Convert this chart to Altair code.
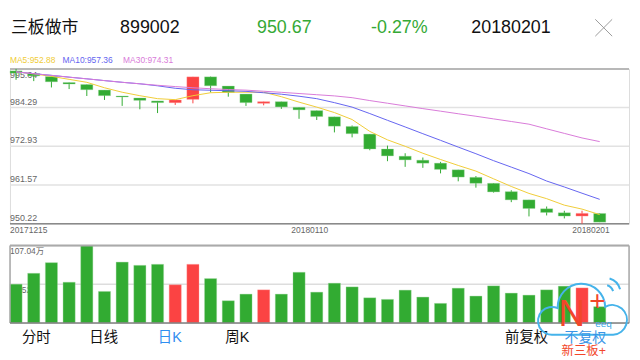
import altair as alt
import pandas as pd
import numpy as np

# ---------------- data ----------------
dates = ["20171215", "20171218", "20171219", "20171220", "20171221", "20171222",
         "20171225", "20171226", "20171227", "20171228", "20171229",
         "20180102", "20180103", "20180104", "20180105", "20180108", "20180109",
         "20180110", "20180111", "20180112", "20180115", "20180116", "20180117",
         "20180118", "20180119", "20180122", "20180123", "20180124", "20180125",
         "20180126", "20180129", "20180130", "20180131", "20180201"]
opens = [995.06, 994.27, 993.40, 991.65, 991.07, 989.44, 987.69, 987.11, 986.24, 985.74,
         986.70, 993.31, 990.60, 988.27, 985.54, 986.03, 984.37, 983.41, 981.58, 978.75,
         976.51, 972.14, 970.02, 968.85, 967.98, 966.03, 963.82, 962.07, 959.62, 957.21,
         954.59, 953.42, 952.46, 953.22]
closes = [994.39, 993.60, 991.86, 991.19, 989.53, 987.78, 987.40, 986.41, 985.74, 986.53,
          993.31, 990.69, 988.74, 985.74, 986.03, 984.49, 983.62, 981.66, 978.84, 976.63,
          972.14, 970.11, 968.94, 967.98, 966.15, 963.90, 962.07, 959.54, 957.21, 954.67,
          953.51, 952.46, 953.24, 950.67]
highs = [995.64, 994.27, 993.40, 991.65, 991.07, 989.44, 987.69, 987.11, 986.24, 986.53,
         993.31, 993.40, 990.60, 988.27, 986.03, 986.03, 984.37, 983.41, 981.58, 979.04,
         976.51, 973.13, 970.89, 969.64, 968.36, 966.03, 964.20, 962.07, 960.03, 957.21,
         955.26, 954.01, 954.01, 953.22]
lows = [992.44, 992.06, 990.20, 989.73, 987.69, 986.53, 984.78, 983.79, 982.68, 985.07,
        985.54, 988.74, 987.49, 984.78, 984.95, 983.91, 981.00, 980.65, 977.01, 975.55,
        971.77, 968.56, 966.90, 966.61, 964.98, 962.65, 960.79, 959.33, 956.54, 952.35,
        952.64, 951.76, 950.22, 950.67]
volumes = [53.5, 68.6, 83.3, 56.3, 107.04, 43.5, 84.1, 79.6, 81.0, 52.6,
           81.0, 61.3, 30.6, 39.8, 45.7, 39.8, 70.0, 42.5, 54.9, 49.8,
           34.7, 32.5, 45.3, 35.7, 27.0, 48.0, 37.1, 51.2, 41.2, 38.4,
           45.7, 50.8, 48.4, 22.4]
ma5 = [994.77, 994.18, 993.46, 992.58, 991.71, 990.11, 988.80, 987.78, 986.91, 986.62,
       987.78, 988.65, 988.80, 988.80, 988.80, 987.49, 985.89, 984.43, 982.83, 980.79,
       977.30, 974.82, 972.93, 970.89, 969.06, 967.31, 965.65, 963.38, 961.14, 959.10,
       957.56, 955.66, 954.50, 952.88]
ma10 = [994.77, 994.24, 993.75, 993.22, 992.73, 992.21, 991.71, 991.27, 990.69, 989.96,
        989.53, 989.38, 989.24, 989.06, 988.65, 988.22, 987.63, 986.91, 985.74, 984.43,
        982.54, 980.56, 978.61, 976.63, 974.68, 972.70, 970.75, 968.71, 966.82, 964.92,
        962.74, 960.99, 959.16, 957.36]
ma30 = [994.77, 994.24, 993.75, 993.22, 992.73, 992.21, 991.71, 991.27, 990.84, 990.46,
        990.11, 989.82, 989.59, 989.41, 989.09, 988.77, 988.42, 988.07, 987.72, 987.20,
        986.35, 985.57, 984.78, 983.99, 983.24, 982.48, 981.75, 980.97, 980.21, 979.42,
        978.06, 976.72, 975.38, 974.31]

price_grid = [961.57, 972.93, 984.29]
price_low_labels = [950.22, 961.57, 972.93, 984.29]
price_top = 995.64
price_bottom = 950.22
vol_max = 107.04
vol_mid = 53.52

header_texts = ["三板做市", "899002", "950.67", "-0.27%", "20180201"]
ma_labels = ["MA5:952.88", "MA10:957.36", "MA30:974.31"]
tab_texts = ["分时", "日线", "日K", "周K", "前复权", "不复权"]
date_labels = ["20171215", "20180110", "20180201"]
date_idx = [0, 17, 33]

# ---------------- styling ----------------
FONT = "Helvetica Neue, Helvetica, Arial, Liberation Sans, Noto Sans CJK SC, sans-serif"
GREEN = "#32ab32"
RED = "#fb4343"
C_MA5, C_MA10, C_MA30 = "#f0cc38", "#6464f0", "#d97ad9"
W = 624
PH, VH = 156, 78

df = pd.DataFrame({"i": np.arange(len(dates)), "date": dates, "open": opens, "close": closes,
                   "high": highs, "low": lows, "vol": volumes,
                   "ma5": ma5, "ma10": ma10, "ma30": ma30})
df["x0"] = df["i"] + 0.0
df["x1"] = df["i"] + 0.686
df["xm"] = df["i"] + 0.343
df["zero"] = 0.0
df["dir"] = np.where(df["close"] > df["open"], "up", "down")

xs = alt.Scale(domain=[0, 35], nice=False, zero=False)
ys = alt.Scale(domain=[price_bottom, price_top], nice=False, zero=False)
vs = alt.Scale(domain=[0, vol_max], nice=False, zero=False)
cs = alt.Scale(domain=["up", "down"], range=[RED, GREEN])
strk = alt.Scale(domain=["up", "down"], range=["#ff9a9a", "#9fd89f"])


def label(text, x, y, color="#111111", size=17, align="left", baseline="middle", weight="normal"):
    return alt.Chart(pd.DataFrame({"t": [text]})).mark_text(
        align=align, baseline=baseline, fontSize=size, color=color, font=FONT, fontWeight=weight
    ).encode(text="t:N", x=alt.value(x), y=alt.value(y))


base = alt.Chart(df)

# ---------------- price panel ----------------
grid = alt.Chart(pd.DataFrame({"v": price_grid})).mark_rule(color="#e2e2e2", strokeWidth=1.5).encode(
    y=alt.Y("v:Q", scale=ys, axis=None))
top_border = alt.Chart(pd.DataFrame({"v": [price_top]})).mark_rule(color="#b8b8b8", strokeWidth=2).encode(
    y=alt.Y("v:Q", scale=ys, axis=None))
bot_border = alt.Chart(pd.DataFrame({"v": [price_bottom]})).mark_rule(color="#8a8a8a", strokeWidth=1.5).encode(
    y=alt.Y("v:Q", scale=ys, axis=None))
ylab = alt.Chart(pd.DataFrame({"v": price_low_labels})).mark_text(
    align="left", baseline="bottom", dy=-1, fontSize=9, color="#666666", font=FONT
).encode(y=alt.Y("v:Q", scale=ys, axis=None), x=alt.value(0), text=alt.Text("v:Q", format=".2f"))
ylab_top = alt.Chart(pd.DataFrame({"v": [price_top]})).mark_text(
    align="left", baseline="top", dy=2, fontSize=9, color="#666666", font=FONT
).encode(y=alt.Y("v:Q", scale=ys, axis=None), x=alt.value(0), text=alt.Text("v:Q", format=".2f"))

wick = base.mark_rule(strokeWidth=1).encode(
    x=alt.X("xm:Q", scale=xs, axis=None), y=alt.Y("low:Q", scale=ys, axis=None), y2="high:Q",
    color=alt.Color("dir:N", scale=cs, legend=None))
body = base.mark_bar(strokeWidth=0.8, strokeOpacity=0.45).encode(
    x=alt.X("x0:Q", scale=xs, axis=None), x2="x1:Q",
    y=alt.Y("open:Q", scale=ys, axis=None), y2="close:Q",
    color=alt.Color("dir:N", scale=cs, legend=None),
    stroke=alt.Color("dir:N", scale=strk, legend=None))
l5 = base.mark_line(color=C_MA5, strokeWidth=1).encode(x=alt.X("xm:Q", scale=xs, axis=None), y=alt.Y("ma5:Q", scale=ys, axis=None))
l10 = base.mark_line(color=C_MA10, strokeWidth=1).encode(x=alt.X("xm:Q", scale=xs, axis=None), y=alt.Y("ma10:Q", scale=ys, axis=None))
l30 = base.mark_line(color=C_MA30, strokeWidth=1).encode(x=alt.X("xm:Q", scale=xs, axis=None), y=alt.Y("ma30:Q", scale=ys, axis=None))

dl = pd.DataFrame({"t": date_labels, "i": date_idx})
dl["x0"] = dl["i"] + 0.0
dl["xm"] = dl["i"] + 0.343
dl["x1"] = dl["i"] + 0.686
date_l = alt.Chart(dl.iloc[[0]]).mark_text(align="left", baseline="middle", fontSize=8.5, color="#666666", font=FONT).encode(
    x=alt.X("x0:Q", scale=xs, axis=None), y=alt.value(162), text="t:N")
date_m = alt.Chart(dl.iloc[[1]]).mark_text(align="center", baseline="middle", dx=-7, fontSize=8.5, color="#666666", font=FONT).encode(
    x=alt.X("xm:Q", scale=xs, axis=None), y=alt.value(162), text="t:N")
date_r = alt.Chart(dl.iloc[[2]]).mark_text(align="right", baseline="middle", dx=4, fontSize=8.5, color="#666666", font=FONT).encode(
    x=alt.X("x1:Q", scale=xs, axis=None), y=alt.value(162), text="t:N")

anchor = alt.Chart(pd.DataFrame({"a": [0]})).mark_rule(strokeOpacity=0, strokeWidth=1).encode(
    x=alt.value(0), x2=alt.value(10), y=alt.value(-59), y2=alt.value(-59))

hdr = [
    label(header_texts[0], 1, -41, size=17),
    label(header_texts[1], 111, -41, size=18),
    label(header_texts[2], 249, -41, size=18, color="#35a935"),
    label(header_texts[3], 364, -41, size=18, color="#35a935"),
    label(header_texts[4], 465, -41, size=18),
    label(ma_labels[0], 0, -9, size=8.5, color=C_MA5),
    label(ma_labels[1], 53, -9, size=8.5, color=C_MA10),
    label(ma_labels[2], 114, -9, size=8.5, color=C_MA30),
]
close_a = alt.Chart(pd.DataFrame({"a": [0]})).mark_rule(color="#9a9a9a", strokeWidth=1).encode(
    x=alt.value(590), x2=alt.value(607), y=alt.value(-50), y2=alt.value(-33))
close_b = alt.Chart(pd.DataFrame({"a": [0]})).mark_rule(color="#9a9a9a", strokeWidth=1).encode(
    x=alt.value(607), x2=alt.value(590), y=alt.value(-50), y2=alt.value(-33))

price = alt.layer(anchor, grid, top_border, bot_border, ylab, ylab_top, wick, body, l5, l10, l30,
                  date_l, date_m, date_r, close_a, close_b, *hdr).properties(width=W, height=PH)

# ---------------- volume panel ----------------
vbox_x = alt.Chart(pd.DataFrame({"v": [0, 35]})).mark_rule(color="#aaaaaa", strokeWidth=1.5).encode(
    x=alt.X("v:Q", scale=xs, axis=None))
vtop = alt.Chart(pd.DataFrame({"v": [vol_max]})).mark_rule(color="#aaaaaa", strokeWidth=2).encode(
    y=alt.Y("v:Q", scale=vs, axis=None))
vbot = alt.Chart(pd.DataFrame({"v": [0.0]})).mark_rule(color="#808080", strokeWidth=1.5).encode(
    y=alt.Y("v:Q", scale=vs, axis=None))
vmid = alt.Chart(pd.DataFrame({"v": [vol_mid]})).mark_rule(color="#dddddd", strokeWidth=1.5).encode(
    y=alt.Y("v:Q", scale=vs, axis=None))
vlab = alt.Chart(pd.DataFrame({"v": [vol_max, vol_mid]})).mark_text(
    align="left", baseline="top", dy=2, fontSize=8.5, color="#666666", font=FONT
).encode(y=alt.Y("v:Q", scale=vs, axis=None), x=alt.value(0),
         text=alt.Text("lbl:N")).transform_calculate(lbl="format(datum.v, '.2f') + '万'")
vbars = base.mark_bar(strokeWidth=0.8, strokeOpacity=0.45).encode(
    x=alt.X("x0:Q", scale=xs, axis=None), x2="x1:Q",
    y=alt.Y("vol:Q", scale=vs, axis=None), y2="zero:Q",
    color=alt.Color("dir:N", scale=cs, legend=None),
    stroke=alt.Color("dir:N", scale=strk, legend=None))

tabs = [
    label(tab_texts[0], 12, 93.5, size=14.5),
    label(tab_texts[1], 80, 93.5, size=14.5),
    label(tab_texts[2], 149, 93.5, size=14.5, color="#2f8ef0"),
    label(tab_texts[3], 217, 93.5, size=14.5),
    label(tab_texts[4], 499, 93.5, size=14.5),
]
cloud_path = ("M -0.68 0.59 A 0.32 0.32 0 1 1 -0.59 -0.02 A 0.545 0.545 0 0 1 0.5 -0.05 "
              "A 0.34 0.34 0 1 1 0.68 0.59 Z "
              "M 0.545 -0.545 A 0.2 0.2 0 0 1 0.68 -0.41 "
              "M 0.6 -0.7 A 0.35 0.35 0 0 1 0.84 -0.45")
cloud = alt.Chart(pd.DataFrame({"a": [0]})).mark_point(
    shape=cloud_path, size=7744, filled=False, stroke="#45b3ea", strokeWidth=2, opacity=1
).encode(x=alt.value(578), y=alt.value(64))
wm = [
    label("N", 553, 70.5, size=37, color="#f2462a"),
    label("+", 584, 57, size=28, color="#f2462a"),
    label("eeq", 590, 79, size=10, color="#3aa8e6"),
    label(tab_texts[5], 559, 93, size=14, color="#3a95e6"),
    label("新三板+", 556, 106, size=12.5, color="#f2462a"),
]

volume = alt.layer(vmid, vlab, vbars, vbox_x, vtop, vbot, *tabs, cloud, *wm).properties(width=W, height=VH)

chart = alt.vconcat(price, volume, spacing=22, bounds="flush").properties(
    padding=0
).configure_view(stroke=None).configure(background="white")

chart.save("out.html", embed_options={"renderer": "svg", "actions": False})
